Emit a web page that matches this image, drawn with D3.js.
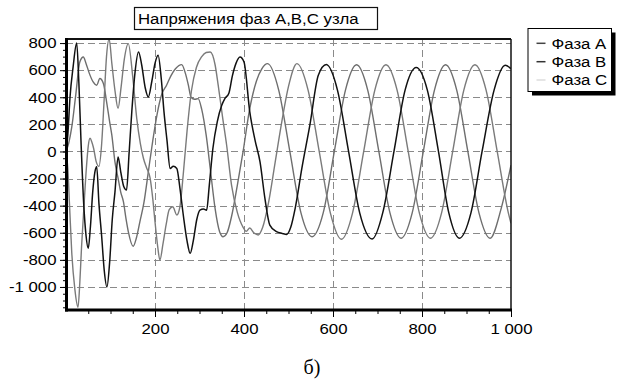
<!DOCTYPE html>
<html><head><meta charset="utf-8">
<script src="https://cdn.jsdelivr.net/npm/d3@7"></script>
<style>body{margin:0;background:#fff}svg{display:block}</style>
</head><body><svg id="c" width="618" height="383"></svg>
<script>
const chartTitle = "Напряжения фаз A,B,C узла";
const seriesNames = ["Фаза A", "Фаза B", "Фаза C"];
const caption = "б)";
const xTicks = [200, 400, 600, 800, 1000];
const xMinor = d3.range(50, 1001, 50);
const yTicks = [-1000, -800, -600, -400, -200, 0, 200, 400, 600, 800];
const yMinor = d3.range(-1150, 801, 50);

// Phase A (grey)
const phaseA = [[0,0],[6,60],[13,181],[22,420],[31,660],[39,697],[45,650],[52,580],[61,513],[69,489],[76,538],[84,501],[92,350],[98,220],[103,120],[110,-77],[117,-197],[123,-300],[129,-371],[135,-500],[140,-592],[151,-700],[158,-640],[166,-519],[175,-380],[185,-150],[195,80],[205,280],[215,420],[226,489],[236,560],[246,610],[260,641],[268,580],[275,489],[281,400],[289,385],[297,390],[305,310],[315,120],[325,-150],[335,-420],[345,-590],[353,-629],[362,-600],[372,-480],[385,-250],[398,0],[412,300],[428,520],[440,610],[453,648],[478,453],[503,0],[528,-453],[553,-629],[578,-453],[603,0],[628,453],[653,640],[678,453],[703,0],[728,-453],[753,-640],[778,-453],[803,0],[828,453],[853,640],[878,453],[903,0],[928,-453],[953,-640],[978,-420],[1000,-101]];
// Phase B (black)
const phaseB = [[0,0],[4,120],[9,400],[16,624],[24,800],[29,500],[34,50],[40,-400],[45,-620],[50,-715],[55,-550],[60,-300],[65,-150],[69,-113],[74,-383],[80,-620],[86,-880],[92,-1000],[98,-820],[104,-500],[110,-300],[117,-40],[123,-150],[130,-261],[136,-285],[142,0],[148,300],[155,580],[163,734],[170,640],[178,470],[185,402],[193,520],[200,650],[207,710],[214,540],[220,300],[227,80],[234,-125],[241,-110],[249,-125],[256,-270],[264,-480],[272,-660],[279,-752],[286,-660],[294,-500],[301,-433],[309,-425],[316,-433],[322,-250],[330,20],[340,220],[350,341],[357,390],[366,430],[374,560],[382,650],[391,697],[400,660],[413,292],[425,80],[436,-77],[447,-346],[458,-543],[473,-592],[486,-605],[496,-612],[505,-560],[515,-420],[530,-125],[548,194],[567,562],[585,641],[610,453],[635,0],[660,-453],[688,-646],[712,-450],[737,0],[762,453],[787,620],[812,453],[837,0],[860,-450],[884,-640],[910,-453],[935,0],[962,453],[987,636],[1000,610]];
// Phase C (grey)
const phaseC = [[0,0],[4,-120],[8,-400],[13,-750],[20,-1020],[27,-1150],[31,-970],[35,-700],[39,-482],[46,-113],[50,40],[54,97],[58,70],[62,24],[68,-77],[74,-110],[80,50],[86,400],[91,700],[97,830],[103,650],[110,450],[117,318],[124,480],[131,680],[140,796],[150,550],[159,243],[167,60],[174,-50],[181,-120],[189,-197],[195,-350],[200,-519],[206,-700],[211,-801],[218,-680],[225,-540],[232,-430],[240,-408],[249,-469],[256,-408],[264,-150],[272,150],[282,450],[293,620],[305,700],[315,730],[324,734],[335,640],[342,489],[352,250],[361,46],[372,-248],[385,-450],[398,-560],[405,-590],[413,-565],[422,-600],[432,-616],[442,-560],[455,-380],[470,-80],[485,220],[500,480],[519,648],[544,453],[569,0],[594,-453],[619,-648],[644,-453],[669,0],[694,453],[719,640],[744,453],[769,0],[794,-453],[819,-640],[844,-453],[869,0],[894,453],[919,640],[944,453],[969,0],[994,-453],[1000,-530]];

const plotColors = ["#6e6e6e", "#111111", "#7a7a7a"];
const legendColors = ["#444444", "#333333", "#dddddd"];
const SX = 1.12; // horizontal text stretch of the reference
const FONT = "'Liberation Sans', Arial, sans-serif";

const svg = d3.select("#c");
const L = 66, R = 511, T = 39, B = 310;
const x = d3.scaleLinear().domain([0, 1000]).range([L, R]);
const y = d3.scaleLinear().domain([-1170, 830]).range([B, T]);
const fmt = d3.formatLocale({decimal: ",", thousands: " ", grouping: [3], currency: ["", ""], minus: "-"}).format(",");

// grid
const grid = svg.append("g").attr("stroke", "#8a8a8a").attr("stroke-width", 1).attr("stroke-dasharray", "7,4");
grid.selectAll("line.h").data(yTicks).join("line")
  .attr("x1", L).attr("x2", R).attr("y1", d => Math.round(y(d)) + 0.5).attr("y2", d => Math.round(y(d)) + 0.5);
grid.selectAll("line.v").data(xTicks.filter(d => d < 1000)).join("line")
  .attr("y1", T).attr("y2", B).attr("x1", d => Math.round(x(d)) + 0.5).attr("x2", d => Math.round(x(d)) + 0.5);

// series
svg.append("defs").append("clipPath").attr("id", "clip").append("rect")
  .attr("x", L).attr("y", T).attr("width", R - L).attr("height", B - T);
const line = d3.line().x(d => x(d[0])).y(d => y(d[1])).curve(d3.curveMonotoneX);
const series = [phaseA, phaseB, phaseC];
const widths = [1.4, 1.5, 1.4];
const order = [0, 2, 1];
const lg = svg.append("g").attr("clip-path", "url(#clip)");
order.forEach(i => {
  lg.append("path").datum(series[i]).attr("d", line)
    .attr("fill", "none").attr("stroke", plotColors[i]).attr("stroke-width", widths[i])
    .attr("stroke-linejoin", "round");
});

// axes
function styleAxis(g) {
  g.select(".domain").remove();
  g.selectAll("line").attr("stroke", "#000").attr("stroke-width", 1);
  g.selectAll("text").attr("font-family", FONT).attr("font-size", 15).attr("fill", "#000");
}
const yAxisMinor = svg.append("g").attr("transform", `translate(${L},0)`)
  .call(d3.axisLeft(y).tickValues(yMinor).tickSize(3).tickFormat(""));
styleAxis(yAxisMinor);
const yAxis = svg.append("g").attr("transform", `translate(${L},0)`)
  .call(d3.axisLeft(y).tickValues(yTicks).tickSize(6).tickFormat(fmt));
styleAxis(yAxis);
yAxis.selectAll("text").attr("x", 0).attr("transform", `translate(-9.5,0) scale(${SX},1)`);

const xAxisMinor = svg.append("g").attr("transform", `translate(0,${B})`)
  .call(d3.axisBottom(x).tickValues(xMinor).tickSize(4).tickFormat(""));
styleAxis(xAxisMinor);
const xAxis = svg.append("g").attr("transform", `translate(0,${B})`)
  .call(d3.axisBottom(x).tickValues(xTicks).tickSize(7).tickFormat(fmt));
styleAxis(xAxis);
xAxis.selectAll("text").attr("y", 0).attr("dy", null).attr("transform", `translate(0,24) scale(${SX},1)`);

// frame
svg.append("line").attr("x1", L).attr("x2", R).attr("y1", T).attr("y2", T).attr("stroke", "#111").attr("stroke-width", 2);
svg.append("line").attr("x1", R).attr("x2", R).attr("y1", T).attr("y2", B).attr("stroke", "#111").attr("stroke-width", 1.5);
svg.append("line").attr("x1", L - 1).attr("x2", R + 1).attr("y1", B).attr("y2", B).attr("stroke", "#000").attr("stroke-width", 3);
svg.append("line").attr("x1", L + 0.5).attr("x2", L + 0.5).attr("y1", T - 1).attr("y2", B + 1.5).attr("stroke", "#000").attr("stroke-width", 3);

// title
svg.append("rect").attr("x", 134.5).attr("y", 7.5).attr("width", 243).attr("height", 22)
  .attr("fill", "#fff").attr("stroke", "#111").attr("stroke-width", 1.2);
svg.append("text").attr("transform", `translate(138,24) scale(${SX},1)`)
  .attr("font-family", FONT).attr("font-size", 15).attr("fill", "#000").text(chartTitle);

// legend
const lgX = 528, lgY = 28.5, lgW = 83.5, lgH = 63;
svg.append("rect").attr("x", lgX + 4).attr("y", lgY + 4).attr("width", lgW).attr("height", lgH).attr("fill", "#000");
svg.append("rect").attr("x", lgX).attr("y", lgY).attr("width", lgW).attr("height", lgH)
  .attr("fill", "#fff").attr("stroke", "#000").attr("stroke-width", 1);
const rows = [43.3, 61.7, 80];
seriesNames.forEach((n, i) => {
  svg.append("line").attr("x1", 536.5).attr("x2", 545.5).attr("y1", rows[i]).attr("y2", rows[i])
    .attr("stroke", legendColors[i]).attr("stroke-width", 1.5);
  svg.append("text").attr("transform", `translate(551.5,${rows[i]}) scale(${SX},1)`)
    .attr("dy", "0.36em").attr("font-family", FONT).attr("font-size", 15).attr("fill", "#000").text(n);
});

// caption
svg.append("text").attr("x", 312).attr("y", 374).attr("text-anchor", "middle")
  .attr("font-family", "'Liberation Serif', 'Times New Roman', serif").attr("font-size", 20).attr("fill", "#000").text(caption);
</script>
</body></html>
